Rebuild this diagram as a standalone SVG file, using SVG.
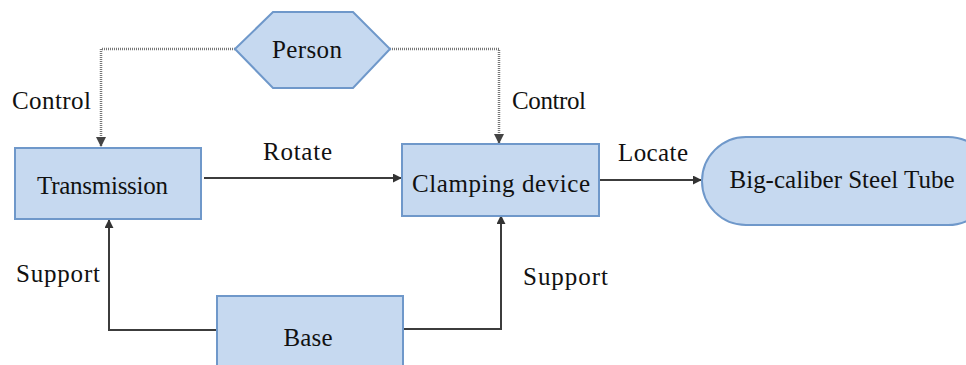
<svg xmlns="http://www.w3.org/2000/svg" width="966" height="365" viewBox="0 0 966 365">
<defs>
<style>
.node{fill:#c6d9f0;stroke:#6f98ca;stroke-width:2}
.solid{fill:none;stroke:#3c3c3c;stroke-width:2}
.dot{fill:none;stroke:#777;stroke-width:2.5;stroke-dasharray:1 1}
</style>
<marker id="ah" viewBox="0 0 10 10" refX="9" refY="5" markerWidth="4.5" markerHeight="4.5" orient="auto" markerUnits="strokeWidth">
<path d="M0,0 L10,5 L0,10 z" fill="#333"/>
</marker>
<marker id="ahd" viewBox="0 0 10 10" refX="9" refY="5" markerWidth="4" markerHeight="4" orient="auto" markerUnits="strokeWidth">
<path d="M0,0 L10,5 L0,10 z" fill="#444"/>
</marker>
</defs>
<rect width="966" height="365" fill="#fff"/>
<g id="connectors">
<path class="dot" d="M235,49 H101 V146" marker-end="url(#ahd)"/>
<path class="dot" d="M390,49 H499 V143" marker-end="url(#ahd)"/>
<path class="solid" d="M204,178 H401" marker-end="url(#ah)"/>
<path class="solid" d="M600,180 H701" marker-end="url(#ah)"/>
<path class="solid" d="M217,330 H109 V220" marker-end="url(#ah)"/>
<path class="solid" d="M403,329 H501 V216" marker-end="url(#ah)"/>
<text font-family="Liberation Serif, Tinos, Times New Roman, serif" font-size="25" fill="#111" x="12" y="109" textLength="79">Control</text>
<text font-family="Liberation Serif, Tinos, Times New Roman, serif" font-size="25" fill="#111" x="512" y="109" textLength="74">Control</text>
<text font-family="Liberation Serif, Tinos, Times New Roman, serif" font-size="25" fill="#111" x="263" y="160" textLength="69">Rotate</text>
<text font-family="Liberation Serif, Tinos, Times New Roman, serif" font-size="25" fill="#111" x="618" y="161" textLength="70">Locate</text>
<text font-family="Liberation Serif, Tinos, Times New Roman, serif" font-size="25" fill="#111" x="16" y="282" textLength="84">Support</text>
<text font-family="Liberation Serif, Tinos, Times New Roman, serif" font-size="25" fill="#111" x="523" y="285" textLength="85">Support</text>
</g>
<g id="person">
<polygon class="node" points="235,49 273,12 353,12 390,49 353,88 273,88"/>
<text font-family="Liberation Serif, Tinos, Times New Roman, serif" font-size="25" fill="#111" x="307" y="58" text-anchor="middle" textLength="70">Person</text>
</g>
<g id="transmission">
<rect class="node" x="15" y="148" width="186" height="71"/>
<text font-family="Liberation Serif, Tinos, Times New Roman, serif" font-size="25" fill="#111" x="37" y="194" textLength="131">Transmission</text>
</g>
<g id="clamping">
<rect class="node" x="402" y="144" width="197" height="72"/>
<text font-family="Liberation Serif, Tinos, Times New Roman, serif" font-size="25" fill="#111" x="501" y="192" text-anchor="middle" textLength="178">Clamping device</text>
</g>
<g id="tube">
<rect class="node" x="702" y="137" width="290" height="88" rx="44" ry="44"/>
<text font-family="Liberation Serif, Tinos, Times New Roman, serif" font-size="25" fill="#111" x="842" y="188" text-anchor="middle" textLength="225">Big-caliber Steel Tube</text>
</g>
<g id="base">
<rect class="node" x="217" y="296" width="186" height="80"/>
<text font-family="Liberation Serif, Tinos, Times New Roman, serif" font-size="25" fill="#111" x="308" y="346" text-anchor="middle" textLength="49">Base</text>
</g>
</svg>
